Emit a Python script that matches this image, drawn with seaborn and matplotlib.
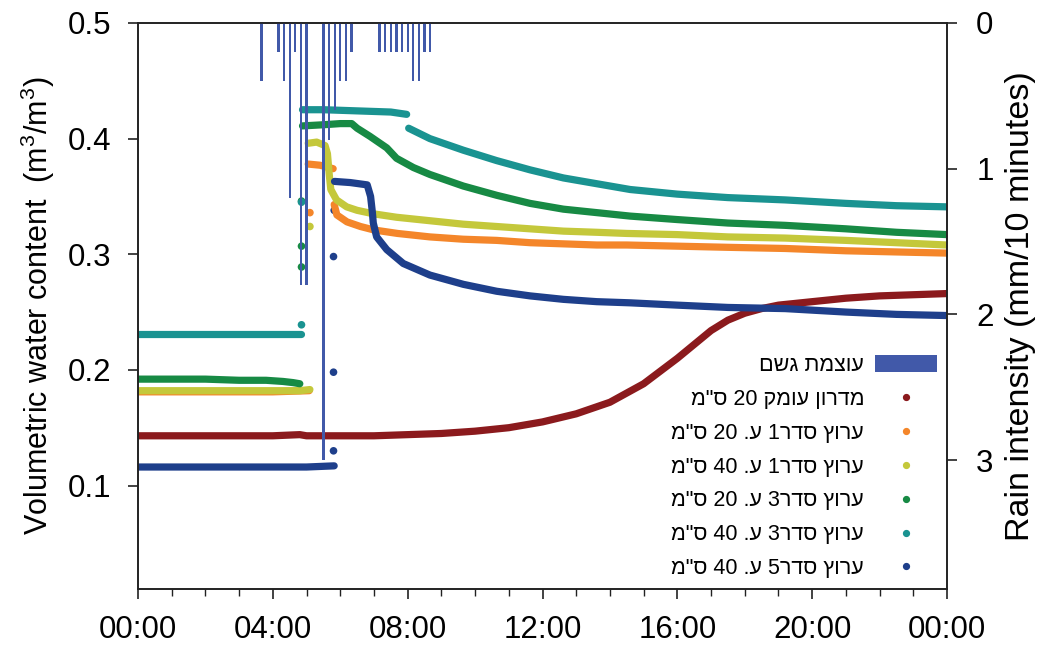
import re
import numpy as np
import pandas as pd
import matplotlib
matplotlib.use("Agg")
import matplotlib.pyplot as plt
import seaborn as sns
from matplotlib.lines import Line2D
from matplotlib.patches import Patch

NAN = np.nan

# ---------------- axis ticks / labels ----------------
HOUR_TICKS = [0, 4, 8, 12, 16, 20, 24]
HOUR_LABELS = ["00:00", "04:00", "08:00", "12:00", "16:00", "20:00", "00:00"]
VWC_TICKS = [0.1, 0.2, 0.3, 0.4, 0.5]
RAIN_TICKS = [0, 1, 2, 3]
Y_LABEL = "Volumetric water content  (m$^3$/m$^3$)"
Y2_LABEL = "Rain intensity (mm/10 minutes)"

# ---------------- rain (10-min intensity, mm) ----------------
RAIN_TIME = ["03:40", "04:10", "04:20", "04:30", "04:40", "04:50", "05:00",
             "05:30", "05:40", "05:50", "06:00", "06:10", "06:20",
             "07:10", "07:20", "07:30", "07:40", "07:50", "08:00",
             "08:10", "08:20", "08:30", "08:40"]
RAIN_MM = [0.4, 0.2, 0.4, 1.2, 0.2, 1.8, 1.8,
           3.0, 0.8, 0.6, 0.4, 0.4, 0.2,
           0.2, 0.2, 0.2, 0.2, 0.2, 0.2,
           0.4, 0.4, 0.2, 0.2]

# ---------------- soil water content series (hours, m3/m3) ----------------
# NaN marks a break in the trace
RED_T = [0, 1, 2, 3, 4, 4.8, 5, 5.5, 6, 7, 8, 9, 10, 11, 12, 13, 14, 15, 16,
         16.5, 17, 17.5, 18, 18.5, 19, 20, 21, 22, 23, 24]
RED_V = [0.143, 0.143, 0.143, 0.143, 0.143, 0.144, 0.143, 0.143, 0.143, 0.143,
         0.144, 0.145, 0.147, 0.150, 0.155, 0.162, 0.172, 0.188, 0.210,
         0.222, 0.234, 0.243, 0.249, 0.253, 0.256, 0.259, 0.262, 0.264, 0.265, 0.266]
RED_PT_T = []
RED_PT_V = []

ORANGE_T = [0, 1, 2, 3, 4, 5.08, NAN,
            5.05, 5.4, 5.79, NAN,
            5.82, 5.9, 6.2, 6.6, 7.0, 7.7, 8.66, 9.65, 10.64, 11.63, 12.62, 13.61,
            14.5, 16, 17.5, 19.2, 21, 22.5, 24]
ORANGE_V = [0.181, 0.181, 0.181, 0.181, 0.181, 0.182, NAN,
            0.378, 0.377, 0.374, NAN,
            0.343, 0.334, 0.328, 0.324, 0.321, 0.318, 0.315, 0.313, 0.312, 0.310, 0.309, 0.308,
            0.308, 0.307, 0.306, 0.305, 0.303, 0.302, 0.301]
ORANGE_PT_T = [5.1]
ORANGE_PT_V = [0.336]

YELLOW_T = [0, 1, 2, 3, 4, 4.8, 5.1, NAN,
            5.05, 5.3, 5.55, 5.62, 5.67, 5.72, 5.89, 6.19, 6.5, 6.98, 7.67, 8.66,
            9.65, 10.64, 11.63, 12.62, 13.61, 14.5, 16, 17.5, 19.2, 21, 22.5, 24]
YELLOW_V = [0.182, 0.182, 0.182, 0.182, 0.182, 0.182, 0.183, NAN,
            0.396, 0.397, 0.394, 0.387, 0.370, 0.356, 0.347, 0.341, 0.338, 0.335, 0.332, 0.329,
            0.326, 0.324, 0.322, 0.320, 0.319, 0.318, 0.317, 0.315, 0.314, 0.312, 0.310, 0.308]
YELLOW_PT_T = [5.1]
YELLOW_PT_V = [0.324]

GREEN_T = [0, 1, 2, 3, 3.8, 4.3, 4.6, 4.8, NAN,
           4.88, 5.5, 6.0, 6.34, 6.5, 6.88, 7.38, 7.67, 8.17, 8.66, 9.65, 10.64,
           11.63, 12.62, 13.61, 14.6, 16, 17.5, 19.2, 21, 22.5, 24]
GREEN_V = [0.192, 0.192, 0.192, 0.191, 0.191, 0.190, 0.189, 0.188, NAN,
           0.411, 0.412, 0.413, 0.413, 0.409, 0.402, 0.392, 0.383, 0.375, 0.369, 0.359, 0.351,
           0.344, 0.339, 0.336, 0.333, 0.330, 0.327, 0.325, 0.322, 0.319, 0.317]
GREEN_PT_T = [4.85, 4.85, 4.85]
GREEN_PT_V = [0.289, 0.307, 0.346]

TEAL_T = [0, 1, 2, 3, 4, 4.83, NAN,
          4.88, 5.5, 6.5, 7.5, 7.97, NAN,
          8.03, 8.66, 9.65, 10.64, 11.63, 12.62, 13.61, 14.6, 16, 17.5, 19.2, 21, 22.5, 24]
TEAL_V = [0.231, 0.231, 0.231, 0.231, 0.231, 0.231, NAN,
          0.425, 0.425, 0.424, 0.423, 0.421, NAN,
          0.409, 0.400, 0.390, 0.381, 0.373, 0.366, 0.361, 0.356, 0.352, 0.349, 0.347, 0.344,
          0.342, 0.341]
TEAL_PT_T = [4.85, 4.85]
TEAL_PT_V = [0.239, 0.345]

BLUE_T = [0, 1, 2, 3, 4, 5, 5.82, NAN,
          5.83, 6.3, 6.8, 6.9, 6.95, 6.98, 7.08, 7.38, 7.87, 8.66, 9.65, 10.64, 11.63,
          12.62, 13.61, 14.6, 16, 17.5, 19.2, 21, 22.5, 24]
BLUE_V = [0.116, 0.116, 0.116, 0.116, 0.116, 0.116, 0.117, NAN,
          0.363, 0.362, 0.360, 0.350, 0.337, 0.327, 0.315, 0.304, 0.292, 0.282, 0.274, 0.268, 0.264,
          0.261, 0.259, 0.258, 0.256, 0.254, 0.253, 0.250, 0.248, 0.247]
BLUE_PT_T = [5.8, 5.8, 5.8, 5.82]
BLUE_PT_V = [0.130, 0.198, 0.298, 0.338]

RAIN_LABEL = "עוצמת גשם"
SERIES_LABELS = ['מדרון עומק 20 ס"מ', 'ערוץ סדר1 ע. 20 ס"מ', 'ערוץ סדר1 ע. 40 ס"מ',
                 'ערוץ סדר3 ע. 20 ס"מ', 'ערוץ סדר3 ע. 40 ס"מ', 'ערוץ סדר5 ע. 40 ס"מ']

# ---------------- styles ----------------
RAIN_COLOR = "#4159a9"
COLORS = ["#8b1a1d", "#f4862a", "#c4c83b", "#178a44", "#1a9391", "#1e3f8b"]

SERIES = [(RED_T, RED_V, RED_PT_T, RED_PT_V),
          (ORANGE_T, ORANGE_V, ORANGE_PT_T, ORANGE_PT_V),
          (YELLOW_T, YELLOW_V, YELLOW_PT_T, YELLOW_PT_V),
          (GREEN_T, GREEN_V, GREEN_PT_T, GREEN_PT_V),
          (TEAL_T, TEAL_V, TEAL_PT_T, TEAL_PT_V),
          (BLUE_T, BLUE_V, BLUE_PT_T, BLUE_PT_V)]


def visual(s):
    """Logical right-to-left text -> visual order for a left-to-right renderer."""
    parts = re.findall(r"\d+|\D", s)
    return "".join(reversed(parts))


def to_frame(t, v):
    rows, seg = [], 0
    for ti, vi in zip(t, v):
        if np.isnan(vi):
            seg += 1
            continue
        rows.append((ti, vi, seg))
    return pd.DataFrame(rows, columns=["t", "v", "seg"])


def hhmm(s):
    h, m = s.split(":")
    return int(h) + int(m) / 60.0


sns.set_style("ticks")
plt.rcParams["font.family"] = ["Liberation Sans", "DejaVu Sans"]
plt.rcParams["mathtext.default"] = "regular"
plt.rcParams["axes.edgecolor"] = "#222222"
plt.rcParams["axes.linewidth"] = 1.2
plt.rcParams["axes.labelcolor"] = "black"
plt.rcParams["text.color"] = "black"

W, H = 1051, 648
fig, ax = plt.subplots(figsize=(W / 100, H / 100), dpi=100)
fig.subplots_adjust(left=138 / W, right=947 / W, top=1 - 23 / H, bottom=1 - 589 / H)

for (t, v, pt, pv), c in zip(SERIES, COLORS):
    df = to_frame(t, v)
    sns.lineplot(data=df, x="t", y="v", units="seg", estimator=None, sort=False,
                 color=c, lw=5.2, solid_capstyle="round", ax=ax, legend=False)
    if pt:
        sns.scatterplot(x=pt, y=pv, color=c, s=30, edgecolor="none", ax=ax, legend=False)

ax2 = ax.twinx()
rain_h = [hhmm(s) for s in RAIN_TIME]
sns.barplot(x=rain_h, y=RAIN_MM, native_scale=True, width=0.4, color=RAIN_COLOR,
            saturation=1, errorbar=None, linewidth=0, ax=ax2)

ax.set_xlim(0, 24)
ax2.set_xlim(0, 24)
ax.set_ylim(0.0105, 0.5)
ax2.set_ylim(3.885, 0)

ax.set_xticks(HOUR_TICKS)
ax.set_xticklabels(HOUR_LABELS)
ax.set_xticks(range(0, 25), minor=True)
ax.set_yticks(VWC_TICKS)
ax.set_yticklabels([f"{v:.1f}" for v in VWC_TICKS])
ax2.set_yticks(RAIN_TICKS)
ax2.set_yticklabels([str(v) for v in RAIN_TICKS])

ax.tick_params(axis="x", which="major", length=7, width=1.2, pad=12, labelsize=22.5, colors="#222222", labelcolor="black")
ax.tick_params(axis="x", which="minor", length=5, width=1.0, colors="#222222")
ax.tick_params(axis="y", length=7, width=1.2, pad=12, labelsize=22.5, colors="#222222", labelcolor="black")
ax2.tick_params(axis="y", length=7, width=1.2, pad=14, labelsize=22.5, colors="#222222", labelcolor="black")

ax.set_xlabel("")
ax.set_ylabel(Y_LABEL, fontsize=22, labelpad=8)
ax2.set_ylabel(Y2_LABEL, fontsize=24.5, labelpad=8)

handles = [Patch(facecolor=RAIN_COLOR, edgecolor="none")] + [
    Line2D([], [], ls="none", marker="o", ms=4.2, color=c) for c in COLORS]
labels = [visual(RAIN_LABEL)] + [visual(s) for s in SERIES_LABELS]
leg = ax2.legend(handles, labels, loc="lower right", bbox_to_anchor=(1, 0),
                 frameon=False, markerfirst=False, fontsize=15.5,
                 handlelength=2.9, handleheight=0.8, labelspacing=0.6,
                 borderaxespad=0.25, borderpad=0.2, handletextpad=0.5)
for t in leg.get_texts():
    t.set_color("black")

fig.savefig("out.png", dpi=100)
